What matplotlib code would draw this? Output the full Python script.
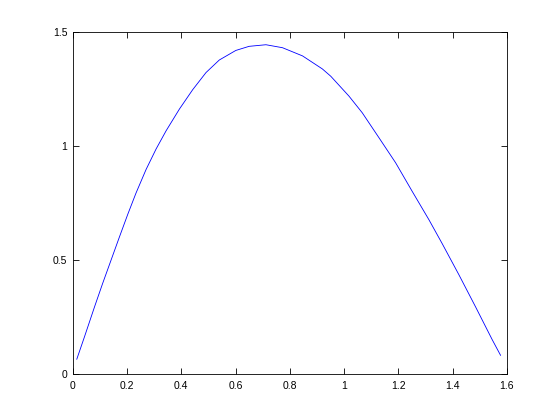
import matplotlib
matplotlib.use("Agg")
import matplotlib.pyplot as plt

x_vals = [0.0147, 0.043, 0.080, 0.110, 0.141, 0.172, 0.203, 0.233, 0.270, 0.307,
          0.344, 0.393, 0.442, 0.491, 0.540, 0.601, 0.650, 0.712, 0.773, 0.847,
          0.920, 0.951, 1.018, 1.067, 1.129, 1.190, 1.251, 1.313, 1.362, 1.423,
          1.485, 1.546, 1.577]
y_vals = [0.064, 0.162, 0.293, 0.396, 0.498, 0.600, 0.700, 0.792, 0.895, 0.985,
          1.065, 1.160, 1.245, 1.320, 1.375, 1.417, 1.435, 1.442, 1.429, 1.393,
          1.336, 1.304, 1.217, 1.144, 1.034, 0.925, 0.800, 0.675, 0.570, 0.435,
          0.293, 0.150, 0.081]

x_ticks = [0, 0.2, 0.4, 0.6, 0.8, 1.0, 1.2, 1.4, 1.6]
x_tick_labels = ["0", "0.2", "0.4", "0.6", "0.8", "1", "1.2", "1.4", "1.6"]
y_ticks = [0, 0.5, 1.0, 1.5]
y_tick_labels = ["0", "0.5", "1", "1.5"]

fig = plt.figure(figsize=(5.6, 4.2), dpi=100)
ax = fig.add_axes([0.13, 0.11, 0.775, 0.815])
ax.plot(x_vals, y_vals, color=(0, 0, 1), linewidth=0.6)
ax.set_xlim(0, 1.6)
ax.set_ylim(0, 1.5)
ax.set_xticks(x_ticks)
ax.set_xticklabels(x_tick_labels)
ax.set_yticks(y_ticks)
ax.set_yticklabels(y_tick_labels)
for s in ax.spines.values():
    s.set_linewidth(0.6)
ax.tick_params(direction="in", length=4, width=0.6, top=True, right=True,
               labelsize=7.5)
ax.tick_params(axis="x", pad=5)
ax.tick_params(axis="y", pad=4)
for lbl in ax.get_xticklabels() + ax.get_yticklabels():
    lbl.set_family(["Liberation Sans", "DejaVu Sans"])
fig.savefig("out.png", dpi=100)
